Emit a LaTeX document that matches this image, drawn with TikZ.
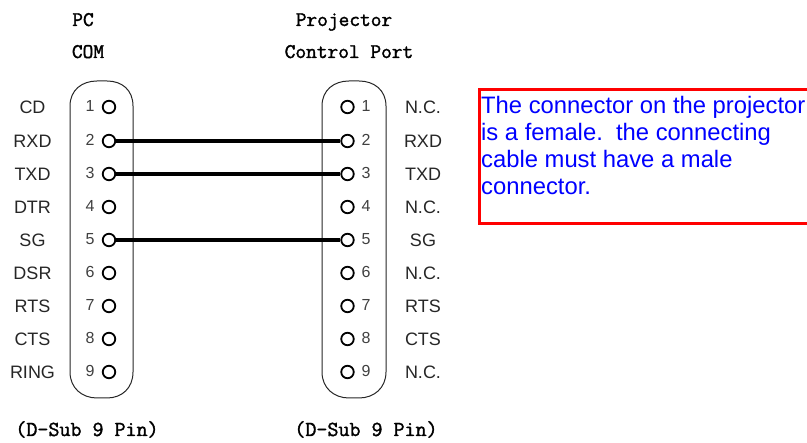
\documentclass[tikz,border=0pt]{standalone}
\usepackage{fontspec}
\setmainfont{Liberation Sans}
\newfontfamily\ttheavy[FakeBold=1.6]{Latin Modern Mono}
\tikzset{
  x=1pt,y=-1pt,
  pin/.style={circle,draw=black,line width=1.8pt,inner sep=0pt,minimum size=12.5pt,fill=none},
  sig/.style={inner sep=0pt,text=black!85,font=\fontsize{18}{18}\selectfont,anchor=center},
  num/.style={inner sep=0pt,text=black!75,font=\fontsize{16}{16}\selectfont,anchor=center},
  title/.style={inner sep=0pt,anchor=base,font=\ttheavy\fontsize{20.8}{21}\selectfont},
  subt/.style={inner sep=0pt,anchor=base,font=\ttheavy\fontsize{21.4}{22}\selectfont},
  shell/.style={draw=black!85,line width=1pt},
  wire/.style={draw=black,line width=3.6pt},
  note/.style={draw=red,line width=3pt},
}
\begin{document}
\begin{tikzpicture}
\useasboundingbox (0,0) rectangle (807,443);
% shells
\draw[shell] (70,106) .. controls (70,90) and (82,81) .. (97,81) -- (107,81) .. controls (122,81) and (133,90) .. (133,106)
  -- (133,372) .. controls (133,388) and (122,398) .. (107,398) -- (97,398) .. controls (82,398) and (70,388) .. (70,372) -- cycle;
\draw[shell] (322,106) .. controls (322,90) and (334,81) .. (349,81) -- (359,81) .. controls (374,81) and (386,90) .. (386,106)
  -- (386,372) .. controls (386,388) and (374,398) .. (359,398) -- (349,398) .. controls (334,398) and (322,388) .. (322,372) -- cycle;
% pins and labels
\foreach \n/\y/\a/\b in {1/107/CD/N.C.,2/141/RXD/RXD,3/174/TXD/TXD,4/207/DTR/N.C.,5/240/SG/SG,6/273/DSR/N.C.,7/306/RTS/RTS,8/339/CTS/CTS,9/372/RING/N.C.}{
  \node[pin] (l\n) at (109,\y) {};
  \node[pin] (r\n) at (347.5,\y) {};
  \node[num] (ln\n) at (90,\y-1) {\n};
  \node[num] (rn\n) at (366,\y-1) {\n};
  \node[sig] (la\n) at (32.5,\y) {\a};
  \node[sig] (ra\n) at (423,\y) {\b};
}
% wires
\draw[wire] (l2) -- (r2);
\draw[wire] (l3) -- (r3);
\draw[wire] (l5) -- (r5);
% titles
\node[title] (t1) at (83,26) {PC};
\node[title] (t2) at (88,58) {COM};
\node[title] (t3) at (344,26) {Projector};
\node[title] (t4) at (349,58) {Control Port};
\node[subt] (t5) at (87,436) {(D-Sub 9 Pin)};
\node[subt] (t6) at (366,436) {(D-Sub 9 Pin)};
% note
\draw[note] (809,90) -- (479,90) -- (479,224) -- (809,224);
\node[inner sep=0pt,anchor=north west,text=blue,align=left,font=\fontsize{23.8}{27}\selectfont] (n) at (481,96)
 {The connector on the projector\\is a female.\ \ the connecting\\cable must have a male\\connector.};
\end{tikzpicture}
\end{document}
